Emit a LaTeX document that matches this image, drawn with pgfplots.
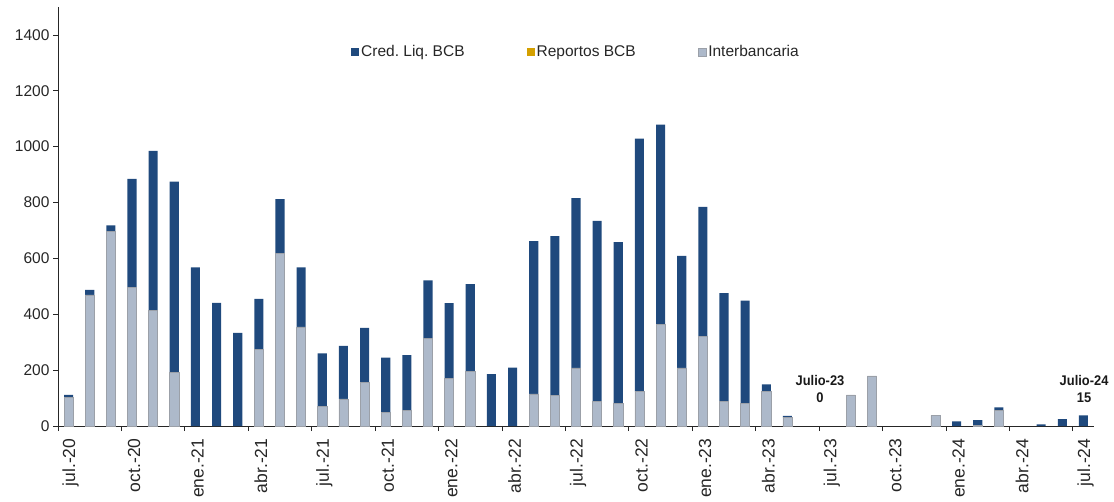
\documentclass[border=0pt]{standalone}
\usepackage{fontspec}
\setmainfont{Liberation Sans}
\usepackage{pgfplots}
\usepackage{pgfplotstable}
\pgfplotsset{compat=1.18}
\definecolor{credblue}{RGB}{31,73,125}
\definecolor{repgold}{RGB}{212,160,0}
\definecolor{interg}{RGB}{173,185,202}
\definecolor{interedge}{RGB}{155,160,168}

% monthly values, jul-20 .. jul-24 (x = month index + 0.5)
\pgfplotstableread{
x inter rep cred
0.5 103 0 8
1.5 469 0 18
2.5 698 0 20
3.5 496 0 389
4.5 413 0 572
5.5 192 0 683
6.5 0 0 568
7.5 0 0 441
8.5 0 0 333
9.5 275 0 180
10.5 618 0 194
11.5 355 0 213
12.5 69 0 191
13.5 97 0 190
14.5 157 0 194
15.5 48 0 197
16.5 55 0 199
17.5 314 0 207
18.5 171 0 269
19.5 196 0 312
20.5 0 0 186
21.5 0 0 209
22.5 115 0 547
23.5 110 0 570
24.5 208 0 608
25.5 87 0 647
26.5 82 0 576
27.5 123 0 906
28.5 363 0 716
29.5 208 0 401
30.5 322 0 462
31.5 87 0 389
32.5 82 0 367
33.5 125 0 24
34.5 30 0 6
35.5 0 0 0
36.5 0 0 0
37.5 111 0 0
38.5 179 0 0
39.5 0 0 0
40.5 0 0 0
41.5 38 0 0
42.5 0 0 17
43.5 2 0 19
44.5 57 0 10
45.5 0 0 0
46.5 0 0 6
47.5 0 0 25
48.5 0 0 38
}\data

\begin{document}
\begin{tikzpicture}
\begin{axis}[
  name=ax, scale only axis, width=1036pt, height=419pt,
  xmin=0, xmax=49, ymin=0, ymax=1500, clip=false,
  axis x line*=bottom, axis y line*=left,
  axis line style={-, black!85, line width=0.8pt},
  ybar stacked, bar width=0.43,
  ytick={0,200,...,1400}, tick align=outside, major tick length=5pt,
  tick style={black!85, line width=0.8pt},
  xtick={0,3,...,48}, xticklabels={},
  extra x ticks={0.6,3.6,...,48.6},
  extra x tick labels={jul.-20,oct.-20,ene.-21,abr.-21,jul.-21,oct.-21,ene.-22,abr.-22,jul.-22,oct.-22,ene.-23,abr.-23,jul.-23,oct.-23,ene.-24,abr.-24,jul.-24},
  extra x tick style={major tick length=0pt, xticklabel shift=9pt},
  xticklabel shift=9pt,
  tick label style={/pgf/number format/assume math mode=true, /pgf/number format/1000 sep={}, black!85},
  y tick label style={font=\fontsize{15.5}{17}\selectfont},
  x tick label style={rotate=90, anchor=east, font=\fontsize{17.5}{19}\selectfont},
  legend style={draw=none, fill=none, at={(0.5,0.893)}, anchor=center, legend columns=3,
    font=\fontsize{15.5}{17}\selectfont, text=black!85,
    /tikz/every even column/.append style={column sep=60pt}},
  legend image code/.code={\fill[#1] (0pt,-4pt) rectangle (8pt,4pt);},
  reverse legend,
]
\addplot[fill=interg, draw=interedge, line width=0.6pt] table[x=x,y=inter]{\data};
\addlegendentry{Interbancaria}
\addplot[fill=repgold, draw=none] table[x=x,y=rep]{\data};
\addlegendentry{Reportos BCB}
\addplot[fill=credblue, draw=none] table[x=x,y=cred]{\data};
\addlegendentry{Cred.\ Liq.\ BCB}
\node[font=\bfseries\fontsize{14}{17}\selectfont, align=center, xscale=0.92, text=black!90] at (axis cs:36.04,132) {Julio-23\\0};
\node[font=\bfseries\fontsize{14}{17}\selectfont, align=center, xscale=0.92, text=black!90] at (axis cs:48.53,132) {Julio-24\\15};
\end{axis}
\path ([xshift=-58pt,yshift=-74pt]ax.south west) rectangle ([xshift=20pt,yshift=7pt]ax.north east);
\end{tikzpicture}
\end{document}
